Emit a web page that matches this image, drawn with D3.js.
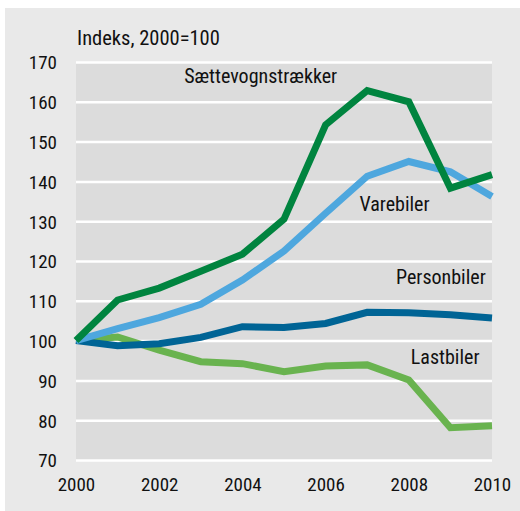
<!DOCTYPE html>
<html>
<head>
<meta charset="utf-8">
<script src="https://cdn.jsdelivr.net/npm/d3@7"></script>
<style>
  body { margin: 0; background: #fff; }
  text { font-family: "Liberation Sans Narrow", "Roboto Condensed", "DejaVu Sans Condensed", sans-serif; fill: #111; }
</style>
</head>
<body>
<div id="chart"></div>
<script>
// years on the x axis
const years = [2000, 2001, 2002, 2003, 2004, 2005, 2006, 2007, 2008, 2009, 2010];

// index values, 2000=100
const saettevogn = [100, 110.2, 113.2, 117.4, 121.7, 130.5, 154.2, 162.8, 160.0, 138.3, 141.7];
const varebiler  = [100, 103.0, 105.8, 109.1, 115.2, 122.5, 132.0, 141.3, 145.0, 142.4, 136.2];
const personbiler = [100, 98.7, 99.2, 100.8, 103.5, 103.3, 104.3, 107.1, 107.0, 106.5, 105.7];
const lastbiler  = [100, 100.9, 97.6, 94.7, 94.2, 92.2, 93.6, 93.9, 90.1, 78.1, 78.6];

const yTicks = [70, 80, 90, 100, 110, 120, 130, 140, 150, 160, 170];
const xTicks = [2000, 2002, 2004, 2006, 2008, 2010];

// series with their label and where the label sits (year, value)
const series = [
  { name: "Sættevognstrækker", values: saettevogn, color: "#00843f", lx: 2002.6, ly: 164.7, anchor: "start" },
  { name: "Varebiler", values: varebiler, color: "#4ea7de", lx: 2008.5, ly: 132.6, anchor: "end" },
  { name: "Personbiler", values: personbiler, color: "#006495", lx: 2009.85, ly: 114.2, anchor: "end" },
  { name: "Lastbiler", values: lastbiler, color: "#69b34f", lx: 2009.7, ly: 94.2, anchor: "end" }
];

const W = 520, H = 511;
const margin = { top: 62, right: 28, bottom: 51, left: 76 };

const x = d3.scaleLinear([2000, 2010], [margin.left, W - margin.right]);
const y = d3.scaleLinear([70, 170], [H - margin.bottom, margin.top]);

const svg = d3.select("#chart")
  .append("svg")
  .attr("width", W)
  .attr("height", H);

// outer panel
svg.append("rect")
  .attr("x", 5).attr("y", 8)
  .attr("width", W - 5).attr("height", H - 8)
  .attr("fill", "#e9e9e9");

// plot area
svg.append("rect")
  .attr("x", x(2000)).attr("y", y(170))
  .attr("width", x(2010) - x(2000)).attr("height", y(70) - y(170))
  .attr("fill", "#dcdcdc");

// gridlines
svg.append("g")
  .attr("transform", "translate(" + x(2000) + ",0)")
  .call(d3.axisLeft(y).tickValues(yTicks).tickSize(-(x(2010) - x(2000))).tickFormat(""))
  .call(g => g.select(".domain").remove())
  .call(g => g.selectAll(".tick line").attr("stroke", "#fff").attr("stroke-width", 2.5));

// y labels
svg.append("g")
  .attr("transform", "translate(" + x(2000) + ",0)")
  .call(d3.axisLeft(y).tickValues(yTicks).tickSize(0).tickPadding(19))
  .call(g => g.select(".domain").remove())
  .call(g => g.selectAll(".tick text").attr("font-size", 19).attr("dy", "0.36em"))
  .attr("font-family", null);

// x labels
svg.append("g")
  .attr("transform", "translate(0," + y(70) + ")")
  .call(d3.axisBottom(x).tickValues(xTicks).tickFormat(d3.format("d")).tickSize(0).tickPadding(18))
  .call(g => g.select(".domain").remove())
  .call(g => g.selectAll(".tick text").attr("font-size", 19))
  .attr("font-family", null);

svg.append("text")
  .attr("x", 77).attr("y", 45)
  .attr("font-size", 20.5)
  .text("Indeks, 2000=100");

const line = d3.line()
  .x((d, i) => x(years[i]))
  .y(d => y(d));

// draw lastbiler first so the others sit on top, like the original
const order = [series[3], series[2], series[1], series[0]];
svg.selectAll(".series")
  .data(order)
  .enter().append("path")
  .attr("class", "series")
  .attr("fill", "none")
  .attr("stroke", d => d.color)
  .attr("stroke-width", 7)
  .attr("stroke-linejoin", "miter")
  .attr("d", d => line(d.values));

svg.selectAll(".lbl")
  .data(series)
  .enter().append("text")
  .attr("class", "lbl")
  .attr("x", d => x(d.lx))
  .attr("y", d => y(d.ly))
  .attr("text-anchor", d => d.anchor)
  .attr("font-size", 20)
  .text(d => d.name);
</script>
</body>
</html>
